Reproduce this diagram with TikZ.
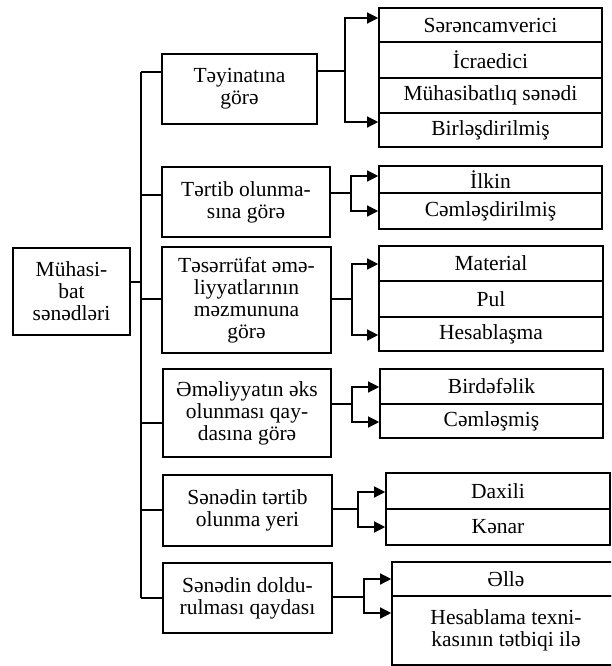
\documentclass[tikz,border=0pt]{standalone}
\usepackage{fontspec}
\setmainfont{Liberation Serif}
\usetikzlibrary{arrows.meta,calc}
\begin{document}
\begin{tikzpicture}[x=1pt,y=-1pt,
  txt/.style={font=\fontsize{21.5}{22}\selectfont, align=center},
  box/.style={draw, line width=1.6pt, rectangle, inner sep=0pt, txt},
  link/.style={line width=1.3pt},
  arr/.style={link, -{Triangle[length=11pt,width=11pt]}}
]
\useasboundingbox (0,0) rectangle (611,666);
\clip (0,0) rectangle (611,666);

% root
\node[box, minimum width=117pt, minimum height=87pt] (root) at (71.5,291.5) {Mühasi-\\bat\\sənədləri};

% middle boxes
\node[box, minimum width=155pt, minimum height=70pt] (m1) at (239.5,89) {Təyinatına\\görə};
\node[box, minimum width=168pt, minimum height=70pt] (m2) at (246,202) {Tərtib olunma-\\sına görə};
\node[box, minimum width=169pt, minimum height=106pt] (m3) at (246.5,300) {Təsərrüfat əmə-\\liyyatlarının\\məzmununa\\görə};
\node[box, minimum width=168pt, minimum height=88pt] (m4) at (247,413) {Əməliyyatın əks\\olunması qay-\\dasına görə};
\node[box, minimum width=169pt, minimum height=71pt] (m5) at (247.5,510.5) {Sənədin tərtib\\olunma yeri};
\node[box, minimum width=169pt, minimum height=70pt] (m6) at (247.5,598) {Sənədin doldu-\\rulması qaydası};

% right cells
\node[box, minimum width=223pt, minimum height=34pt] (c11) at (490.5,25) {Sərəncamverici};
\node[box, minimum width=223pt, minimum height=36pt] (c12) at (490.5,60) {İcraedici};
\node[box, minimum width=223pt, minimum height=35pt] (c13) at (490.5,95.5) {Mühasibatlıq sənədi};
\node[box, minimum width=223pt, minimum height=34pt] (c14) at (490.5,130) {Birləşdirilmiş};

\node[box, minimum width=223pt, minimum height=27pt] (c21) at (490.5,179.5) {İlkin};
\node[box, minimum width=223pt, minimum height=36pt] (c22) at (490.5,211) {Cəmləşdirilmiş};

\node[box, minimum width=224pt, minimum height=35pt] (c31) at (491,263.5) {Material};
\node[box, minimum width=224pt, minimum height=36pt] (c32) at (491,299) {Pul};
\node[box, minimum width=224pt, minimum height=34pt] (c33) at (491,334) {Hesablaşma};

\node[box, minimum width=223pt, minimum height=35pt] (c41) at (491.5,386.5) {Birdəfəlik};
\node[box, minimum width=223pt, minimum height=34pt] (c42) at (491.5,421) {Cəmləşmiş};

\node[box, minimum width=224pt, minimum height=36pt] (c51) at (498,491) {Daxili};
\node[box, minimum width=224pt, minimum height=36pt] (c52) at (498,527) {Kənar};

\node[box, minimum width=228pt, minimum height=34pt] (c61) at (506,579) {Əllə};
\node[box, minimum width=228pt, minimum height=69pt] (c62) at (506,630.5) {Hesablama texni-\\kasının tətbiqi ilə};

% spine junctions
\coordinate (j0) at (141,282);
\coordinate (s1) at (141,72);
\coordinate (s2) at (141,195);
\coordinate (s3) at (141,299);
\coordinate (s4) at (141,423);
\coordinate (s5) at (141,510);
\coordinate (s6) at (141,598);

\draw[link] (root.east |- j0) -- (j0);
\draw[link] (s1) -- (s6);
\foreach \k in {1,...,6} {
  \draw[link] (s\k) -- (m\k.west |- s\k);
}

% forks
\coordinate (f1) at (345,71);
\coordinate (f2) at (351,193);
\coordinate (f3) at (352,299);
\coordinate (f4) at (352,404);
\coordinate (f5) at (358,509);
\coordinate (f6) at (364,597);

\coordinate (a1t) at (0,18);  \coordinate (a1b) at (0,122);
\coordinate (a2t) at (0,176); \coordinate (a2b) at (0,211);
\coordinate (a3t) at (0,264); \coordinate (a3b) at (0,335);
\coordinate (a4t) at (0,387); \coordinate (a4b) at (0,422);
\coordinate (a5t) at (0,492); \coordinate (a5b) at (0,527);
\coordinate (a6t) at (0,579); \coordinate (a6b) at (0,613);

\draw[link] (m1.east |- f1) -- (f1);
\draw[arr] (f1) |- (c11.west |- a1t);
\draw[arr] (f1) |- (c14.west |- a1b);

\draw[link] (m2.east |- f2) -- (f2);
\draw[arr] (f2) |- (c21.west |- a2t);
\draw[arr] (f2) |- (c22.west |- a2b);

\draw[link] (m3.east |- f3) -- (f3);
\draw[arr] (f3) |- (c31.west |- a3t);
\draw[arr] (f3) |- (c33.west |- a3b);

\draw[link] (m4.east |- f4) -- (f4);
\draw[arr] (f4) |- (c41.west |- a4t);
\draw[arr] (f4) |- (c42.west |- a4b);

\draw[link] (m5.east |- f5) -- (f5);
\draw[arr] (f5) |- (c51.west |- a5t);
\draw[arr] (f5) |- (c52.west |- a5b);

\draw[link] (m6.east |- f6) -- (f6);
\draw[arr] (f6) |- (c61.west |- a6t);
\draw[arr] (f6) |- (c62.west |- a6b);
\end{tikzpicture}
\end{document}
